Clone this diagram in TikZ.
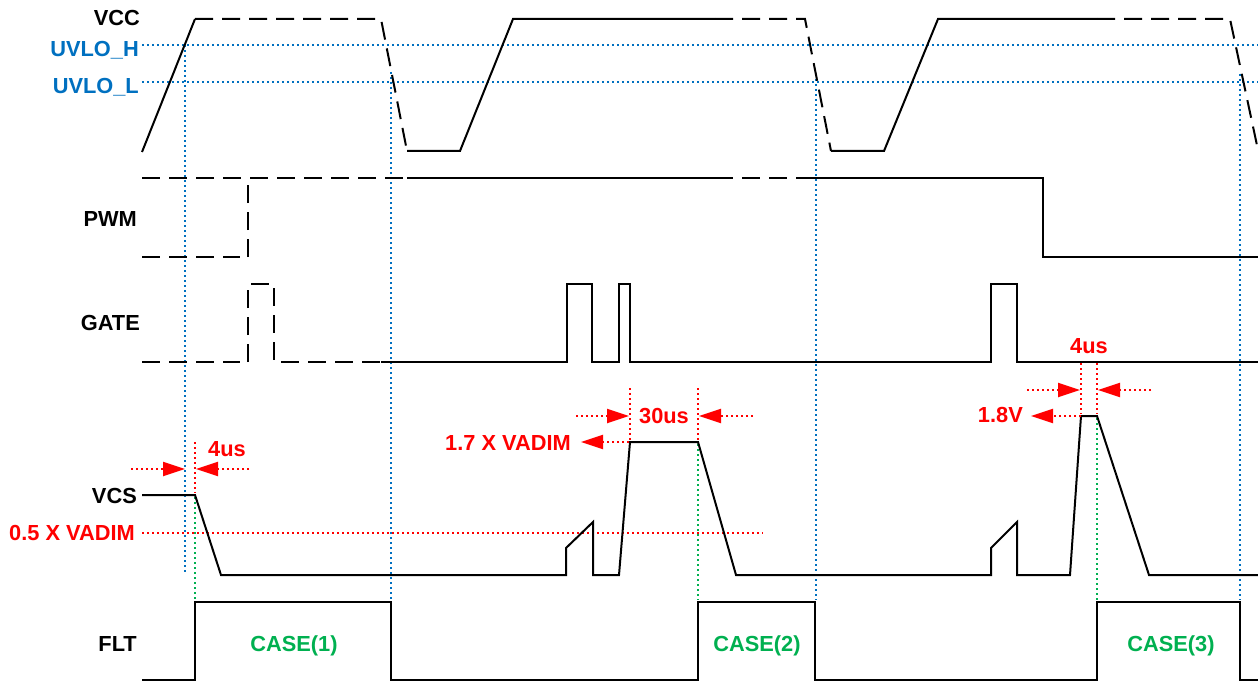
\documentclass[tikz,border=0pt]{standalone}
\usepackage{fontspec}
\setmainfont{Liberation Sans}
\usetikzlibrary{arrows.meta}
\definecolor{uvblue}{RGB}{0,112,192}
\definecolor{cgreen}{RGB}{0,176,80}
\definecolor{ared}{RGB}{255,0,0}
\tikzset{
  sig/.style={line width=2pt, black, line join=miter},
  dsig/.style={sig, dash pattern=on 18pt off 9pt},
  bdot/.style={line width=2.3pt, uvblue, dash pattern=on 2.4pt off 2.6pt},
  rdot/.style={line width=2.3pt, ared, dash pattern=on 2.4pt off 2.6pt},
  gdot/.style={line width=2.3pt, cgreen, dash pattern=on 2.4pt off 2.6pt},
  rarr/.style={rdot, -{Triangle[length=22pt,width=14pt]}},
  lbl/.style={inner sep=0pt, font=\fontsize{21.8}{24}\selectfont\bfseries},
  blbl/.style={lbl, anchor=base east},
  ulbl/.style={lbl, anchor=base east, text=uvblue},
  rlbl/.style={lbl, text=ared},
  glbl/.style={lbl, anchor=base, text=cgreen}
}
\begin{document}
\begin{tikzpicture}[x=1pt,y=-1pt]
\useasboundingbox (0,0) rectangle (1258,682);
% ---- threshold lines
\draw[bdot] (142,45) -- (1258,45);
\draw[bdot] (142,82) -- (1258,82);
% ---- blue verticals
\draw[bdot] (185,45) -- (185,572);
\draw[bdot] (391,72) -- (391,600);
\draw[bdot] (816,74) -- (816,600);
\draw[bdot] (1240,74) -- (1240,600);
% ---- green verticals
\draw[gdot] (195,497) -- (195,600);
\draw[gdot] (698,444) -- (698,600);
\draw[gdot] (1097,418) -- (1097,600);
% ---- red 0.5 VADIM line
\draw[rdot] (142,533) -- (763,533);

% ---- VCC
\draw[sig] (142,152) -- (195,19);
\draw[dsig] (195,19) -- (381,19) -- (407,151);
\draw[sig] (407,151) -- (460,151) -- (513,19) -- (715,19);
\draw[dsig] (715,19) -- (805,19) -- (831,151);
\draw[sig] (831,151) -- (884,151) -- (938,19) -- (1097,19);
\draw[dsig] (1097,19) -- (1230,19) -- (1258,150);

% ---- PWM
\draw[dsig] (142,178) -- (248,178);
\draw[dsig] (142,257) -- (240,257);
\draw[dsig] (248,257) -- (248,178) -- (407,178);
\draw[sig] (407,178) -- (715,178);
\draw[dsig] (715,178) -- (806,178);
\draw[sig] (806,178) -- (1043,178) -- (1043,257) -- (1258,257);

% ---- GATE
\draw[dsig] (142,362) -- (240,362);
\draw[dsig] (248,362) -- (248,284) -- (274,284) -- (274,362) -- (381,362);
\draw[sig] (381,362) -- (567,362) -- (567,284) -- (592,284) -- (592,362)
  -- (619,362) -- (619,284) -- (630,284) -- (630,362) -- (991,362)
  -- (991,284) -- (1017,284) -- (1017,362) -- (1258,362);

% ---- VCS
\draw[sig] (142,495) -- (195,495) -- (221,575) -- (566,575) -- (566,548)
  -- (593,522) -- (593,575) -- (619,575) -- (630,442) -- (698,442)
  -- (736,575) -- (991,575) -- (991,548) -- (1017,522) -- (1017,575)
  -- (1070,575) -- (1081,416) -- (1097,416) -- (1149,575) -- (1258,575);

% ---- FLT
\draw[sig] (142,680) -- (195,680) -- (195,602) -- (391,602) -- (391,680)
  -- (698,680) -- (698,602) -- (815,602) -- (815,680) -- (1097,680)
  -- (1097,602) -- (1240,602) -- (1240,680) -- (1258,680);

% ---- 4us (case 1)
\draw[rdot] (195,442) -- (195,493);
\draw[rarr] (131,469) -- (185,469);
\draw[rarr] (249,469) -- (196,469);
\node[rlbl, anchor=base west] (t4a) at (208,456) {4us};

% ---- 30us (case 2)
\draw[rdot] (630,388) -- (630,440);
\draw[rdot] (698,388) -- (698,440);
\draw[rarr] (576,416) -- (629,416);
\draw[rarr] (753,416) -- (699,416);
\draw[rarr] (629,442) -- (581,442);
\node[rlbl, anchor=base] (t30) at (664,423) {30us};
\node[rlbl, anchor=base east] (t17) at (571,450) {1.7 X VADIM};

% ---- 4us / 1.8V (case 3)
\draw[rdot] (1081,363) -- (1081,414);
\draw[rdot] (1097,363) -- (1097,414);
\draw[rarr] (1027,390) -- (1080,390);
\draw[rarr] (1151,390) -- (1098,390);
\draw[rarr] (1081,416) -- (1031,416);
\node[rlbl, anchor=base] (t4b) at (1089,353) {4us};
\node[rlbl, anchor=base east] (t18) at (1023,422) {1.8V};

% ---- labels
\node[blbl] (lvcc) at (140,26) {VCC};
\node[ulbl] (luh) at (139,57) {UVLO\_H};
\node[ulbl] (lul) at (139,94) {UVLO\_L};
\node[blbl] (lpwm) at (137,226) {PWM};
\node[blbl] (lgate) at (140,330) {GATE};
\node[blbl] (lvcs) at (137,503) {VCS};
\node[rlbl, anchor=base east] (lhalf) at (135,540) {0.5 X VADIM};
\node[blbl] (lflt) at (137,651) {FLT};
\node[glbl] (c1) at (294,651) {CASE(1)};
\node[glbl] (c2) at (757,651) {CASE(2)};
\node[glbl] (c3) at (1171,651) {CASE(3)};
\end{tikzpicture}
\end{document}
